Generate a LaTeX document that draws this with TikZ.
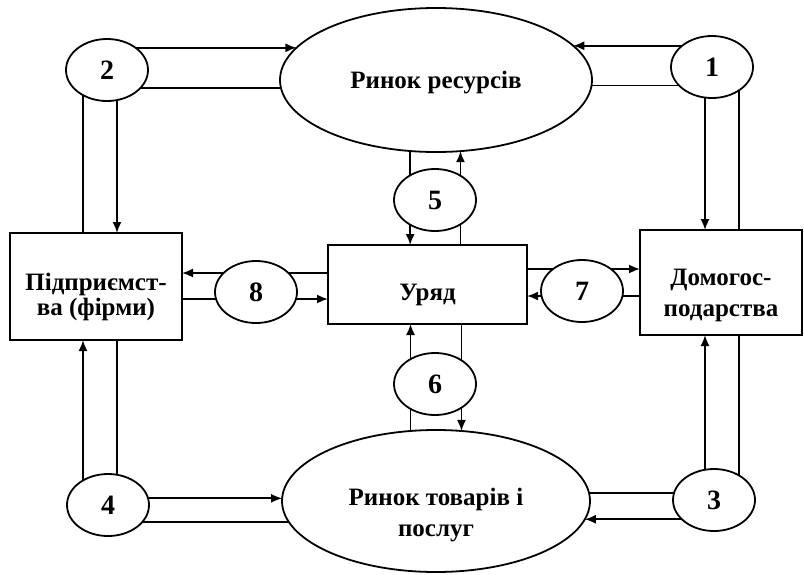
\documentclass[tikz,border=0pt]{standalone}
\usepackage{fontspec}
\setmainfont{Liberation Serif}
\usetikzlibrary{arrows.meta, shapes.geometric, backgrounds}

\begin{document}
\begin{tikzpicture}[
  x=0.5pt, y=-0.5pt,
  market/.style={
    ellipse, draw, fill=white, line width=0.9pt,
    inner sep=0pt, outer sep=0pt,
    minimum width=156pt, minimum height=72pt
  },
  flow/.style={
    ellipse, draw, fill=white, line width=0.9pt,
    inner sep=0pt, minimum width=41pt, minimum height=31pt,
    font=\fontsize{14}{16}\selectfont\bfseries
  },
  box/.style={
    rectangle, draw, fill=white, line width=0.9pt,
    inner sep=0pt, outer sep=0pt
  },
  boxtext/.style={
    align=center, inner sep=0pt,
    font=\fontsize{12.5}{15.5}\selectfont\bfseries
  },
  arrow/.style={-{Latex[length=5.5pt, width=4.5pt]}, line width=0.85pt},
  link/.style={line width=0.85pt},
]
\useasboundingbox (0,0) rectangle (804,574);

\node[market, label={[boxtext, yshift=-1.5pt]center:Ринок ресурсів}] (res) at (436,80) {};
\node[market, minimum width=154pt, minimum height=71pt,
  label={[boxtext, yshift=-7pt]center:Ринок товарів і\\послуг}] (goods) at (436,501) {};
\node[box, minimum width=86pt, minimum height=53.5pt,
  label={[boxtext, yshift=-5pt, font=\fontsize{12.5}{12.5}\selectfont\bfseries]center:Підприємст-\\ва (фірми)}] (firms) at (96,286.5) {};
\node[box, minimum width=81pt, minimum height=52.5pt,
  label={[boxtext, yshift=-6.5pt]center:Домогос-\\подарства}] (house) at (721,282.5) {};
\node[box, minimum width=99.5pt, minimum height=39.5pt,
  label={[boxtext, yshift=-5pt]center:Уряд}] (gov) at (427.5,284.5) {};

\node[flow] (f1) at (712,67) {1};
\node[flow] (f2) at (107,70) {2};
\node[flow] (f3) at (714,500) {3};
\node[flow] (f4) at (108,505) {4};
\node[flow] (f5) at (435,200) {5};
\node[flow] (f6) at (435,384) {6};
\node[flow] (f7) at (582,291) {7};
\node[flow] (f8) at (256,292) {8};

\begin{scope}[on background layer]
  \fill[white] (0,0) rectangle (804,574);
  % flow 1
  \draw[arrow] (f1.center |- res.14) -- (res.14);
  \draw[link] (res.-2) -- (f1.center |- res.-2);
  \draw[arrow] ([xshift=-8pt]house.north |- f1.center) -- ([xshift=-8pt]house.north);
  \draw[link] ([xshift=9pt]house.north) -- ([xshift=9pt]house.north |- f1.center);
  % flow 2
  \draw[arrow] (f2.center |- res.167) -- (res.167);
  \draw[link] (res.183) -- (f2.center |- res.183);
  \draw[link] ([xshift=-6.5pt]firms.north |- f2.center) -- ([xshift=-6.5pt]firms.north);
  \draw[arrow] ([xshift=10.5pt]firms.north |- f2.center) -- ([xshift=10.5pt]firms.north);
  % flow 3
  \draw[arrow] ([xshift=-8pt]house.south |- f3.center) -- ([xshift=-8pt]house.south);
  \draw[link] ([xshift=9pt]house.south) -- ([xshift=9pt]house.south |- f3.center);
  \draw[link] (goods.3) -- (f3.center |- goods.3);
  \draw[arrow] (f3.center |- goods.-7) -- (goods.-7);
  % flow 4
  \draw[arrow] ([xshift=-6.5pt]firms.south |- f4.center) -- ([xshift=-6.5pt]firms.south);
  \draw[link] ([xshift=10.5pt]firms.south) -- ([xshift=10.5pt]firms.south |- f4.center);
  \draw[arrow] (f4.center |- goods.179) -- (goods.179);
  \draw[link] (goods.188) -- (f4.center |- goods.188);
  % flow 5
  \draw[arrow] (res.250) -- (gov.north -| res.250);
  \draw[arrow] (gov.north -| res.289) -- (res.289);
  % flow 6
  \draw[arrow] (goods.110) -- (gov.south -| goods.110);
  \draw[arrow] (gov.south -| goods.70) -- (goods.70);
  % flow 7
  \draw[arrow] ([yshift=7.75pt]gov.east) -- ([yshift=7.75pt]gov.east -| house.west);
  \draw[arrow] ([yshift=-5.75pt]gov.east -| house.west) -- ([yshift=-5.75pt]gov.east);
  % flow 8
  \draw[arrow] ([yshift=5.75pt]gov.west) -- ([yshift=5.75pt]gov.west -| firms.east);
  \draw[arrow] ([yshift=-7.25pt]gov.west -| firms.east) -- ([yshift=-7.25pt]gov.west);
\end{scope}
\end{tikzpicture}
\end{document}
